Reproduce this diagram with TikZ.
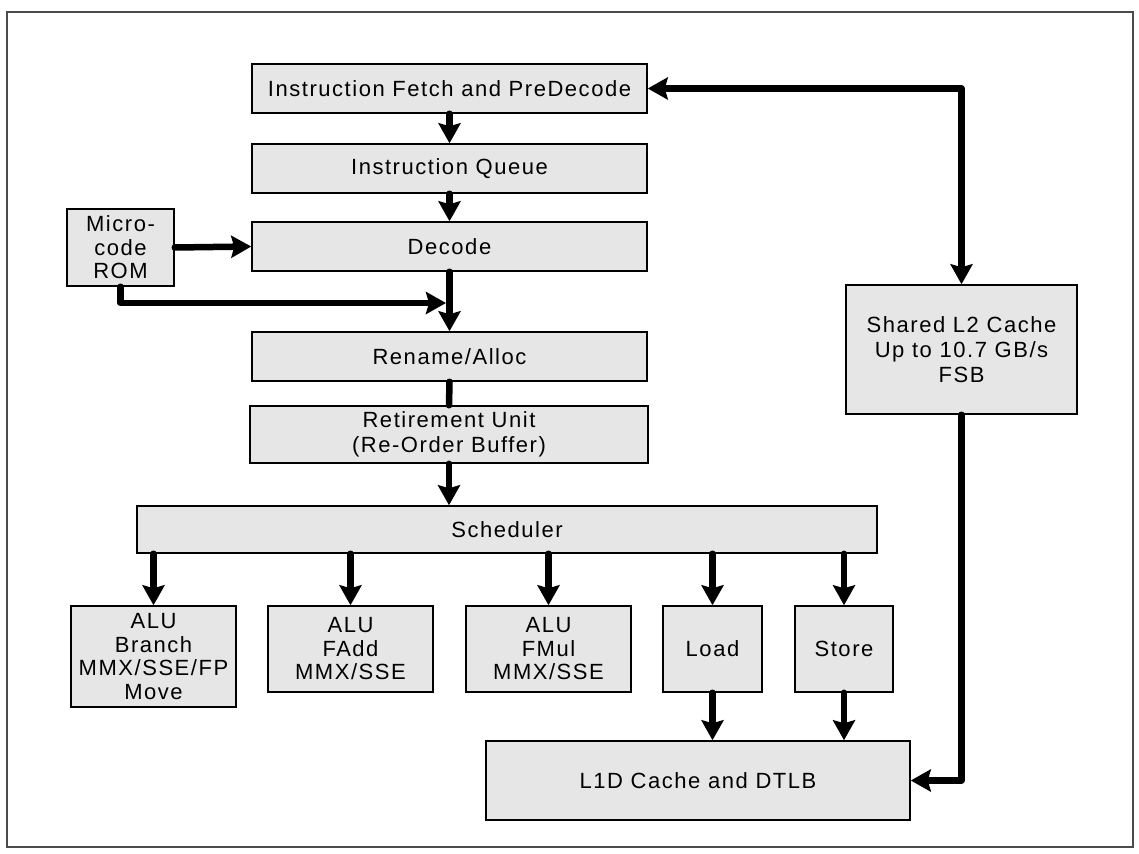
\documentclass[tikz,border=0pt]{standalone}
\usepackage{fontspec}
\setmainfont{Liberation Sans}[LetterSpace=7]
\usetikzlibrary{arrows.meta}
\definecolor{boxgray}{RGB}{230,230,230}
\definecolor{framegray}{RGB}{75,75,75}
\begin{document}
\begin{tikzpicture}[x=1pt,y=-1pt,
  blk/.style={draw=black, fill=boxgray, line width=1.5pt, inner sep=0pt, align=center,
              font=\fontsize{22}{23.5}\selectfont},
  tip/.tip={Stealth[length=20pt,width=22pt,inset=3pt]},
  conn/.style={line width=6.5pt, line cap=round, line join=round, -tip},
  plain/.style={line width=6.5pt, line cap=round},
  bidir/.style={line width=6.5pt, line cap=round, line join=round, tip-tip}]
\useasboundingbox (0,0) rectangle (1139,853);
\draw[framegray, line width=1.5pt] (7,12) rectangle (1133,847);

\node[blk, minimum width=395pt, minimum height=49pt] (IF) at (449.5,88.5) {Instruction Fetch and PreDecode};
\node[blk, minimum width=395pt, minimum height=49pt] (IQ) at (449.5,168.5) {Instruction Queue};
\node[blk, minimum width=395pt, minimum height=49pt] (DEC) at (449.5,246.5) {Decode};
\node[blk, minimum width=107pt, minimum height=77pt] (ROM) at (120.5,247.5) {Micro-\\code\\ROM};
\node[blk, minimum width=395pt, minimum height=49pt] (REN) at (449.5,356.5) {Rename/Alloc};
\node[blk, minimum width=398pt, minimum height=57pt, font=\fontsize{22}{25}\selectfont] (RET) at (449,434.5) {Retirement Unit\\(Re-Order Buffer)};
\node[blk, minimum width=740pt, minimum height=47pt] (SCH) at (507,529.5) {Scheduler};
\node[blk, minimum width=165pt, minimum height=101pt] (ALU1) at (153.5,656.5) {ALU\\Branch\\MMX/SSE/FP\\Move};
\node[blk, minimum width=165pt, minimum height=86pt] (ALU2) at (350.5,649) {ALU\\FAdd\\MMX/SSE};
\node[blk, minimum width=165pt, minimum height=86pt] (ALU3) at (548.5,649) {ALU\\FMul\\MMX/SSE};
\node[blk, minimum width=99pt, minimum height=86pt] (LD) at (712.5,649) {Load};
\node[blk, minimum width=98pt, minimum height=86pt] (ST) at (844,649) {Store};
\node[blk, minimum width=424pt, minimum height=79pt] (L1D) at (698,780.5) {L1D Cache and DTLB};
\node[blk, minimum width=231pt, minimum height=129pt, font=\fontsize{22}{25}\selectfont] (L2) at (961.5,349.5) {Shared L2 Cache\\Up to 10.7 GB/s\\FSB};

\coordinate (MJ) at (446,303);

\draw[conn] (IF.south) -- (IQ.north);
\draw[conn] (IQ.south) -- (DEC.north);
\draw[conn] (ROM.east) -- (DEC.west);
\draw[conn] (DEC.south) -- (REN.north);
\draw[conn] (ROM.south) |- (MJ);
\draw[plain] (REN.south) -- (RET.north);
\draw[conn] (RET.south) -- (RET.south |- SCH.north);
\draw[conn] (SCH.south -| ALU1.north) -- (ALU1.north);
\draw[conn] (SCH.south -| ALU2.north) -- (ALU2.north);
\draw[conn] (SCH.south -| ALU3.north) -- (ALU3.north);
\draw[conn] (SCH.south -| LD.north) -- (LD.north);
\draw[conn] (SCH.south -| ST.north) -- (ST.north);
\draw[conn] (LD.south) -- (LD.south |- L1D.north);
\draw[conn] (ST.south) -- (ST.south |- L1D.north);
\draw[bidir] (IF.east) -| (L2.north);
\draw[conn] (L2.south) |- (L1D.east);
\end{tikzpicture}
\end{document}
